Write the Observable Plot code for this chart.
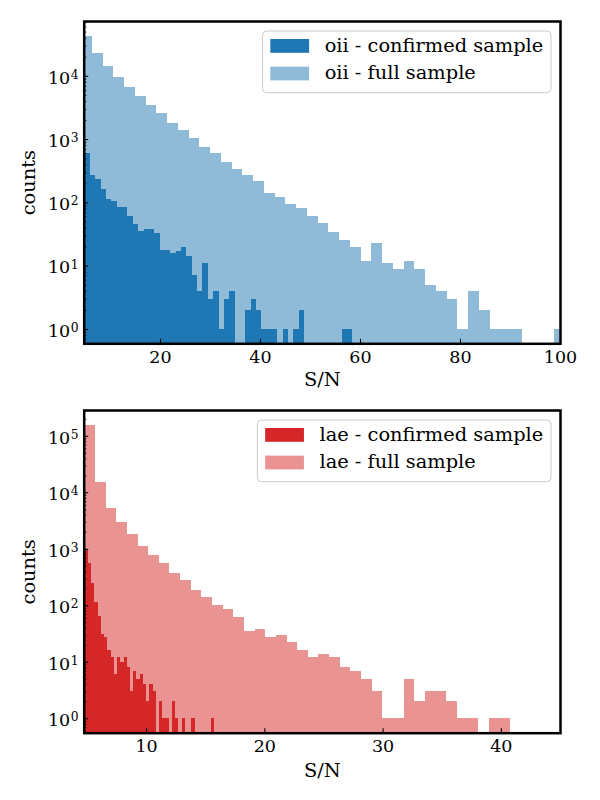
<!DOCTYPE html>
<html><head><meta charset="utf-8">
<script src="https://cdn.jsdelivr.net/npm/d3@7"></script>
<script src="https://cdn.jsdelivr.net/npm/@observablehq/plot@0.6"></script>
<style>
body{margin:0;background:#fff;}
#chart{width:600px;}
#chart svg{display:block;}
</style></head><body><div id="chart"></div>
<script>
// ---- data: histogram counts per bin (bin start, bin width, counts) ----
const oiiFullStart = 4.2, oiiFullWidth = 2.15;
const oiiFullCounts = [42500, 22900, 14300, 9560, 6650, 4790, 3460, 2580, 1790, 1390,
  1040, 750, 603, 434, 337, 271, 218, 141, 122, 94, 82, 61, 47, 34, 25, 20, 12, 23, 11, 9,
  12, 9, 5, 4, 3, 1, 4, 2, 1, 1, 1, 0, 0, 0, 1];
const oiiConfStart = 4.93, oiiConfWidth = 1.071;
const oiiConfCounts = [603, 271, 234, 163, 113, 105, 84, 84, 61, 46, 35, 38, 38, 33, 18, 18,
  16, 17, 20, 14, 7, 4, 11, 3, 4, 1, 3, 4, 0, 0, 2, 3, 2, 1, 1, 1, 0, 1, 0, 1, 2,
  0, 0, 0, 0, 0, 0, 0, 1, 1];
const laeFullStart = 4.78, laeFullWidth = 0.9;
const laeFullCounts = [155000, 15400, 5270, 2980, 1830, 1120, 777, 561, 373, 281, 186, 140,
  101, 86, 62, 35, 38, 27, 30, 22, 16, 12, 14, 12, 8, 7, 5, 3, 1, 1, 5, 2, 3, 3, 2, 1, 1, 0, 1, 1];
const laeConfStart = 4.824, laeConfWidth = 0.273;
const laeConfCounts = [950, 561, 248, 115, 65, 31, 28, 16, 12, 6, 12, 10, 12, 8, 3, 7, 5, 6,
  4, 2, 4, 3, 0, 2, 1, 1, 0, 2, 1, 0, 1, 0, 0, 1, 0, 0, 0, 0, 0, 1];
const oiiXTicks = [20, 40, 60, 80, 100];
const laeXTicks = [10, 20, 30, 40];
const oiiLabels = ["oii - confirmed sample", "oii - full sample"];
const laeLabels = ["lae - confirmed sample", "lae - full sample"];
const blue = "#1f77b4", blueLight = "#8fbbd9";
const red = "#d62728", redLight = "#ea9393";

function bins(start, width, counts) {
  return counts.map((c, i) => ({x1: start + i * width, x2: start + (i + 1) * width, count: c}))
               .filter(d => d.count > 0);
}

const FONT = "'DejaVu Serif', serif";

function panel({full, conf, xDomain, yDomain, xTicks, height, marginTop, marginBottom, color, colorLight, labelDy}) {
  const W = 600, ML = 83.7, MR = 40;
  const plotH = height - marginTop - marginBottom, plotW = W - ML - MR;
  const [y0, y1] = yDomain;
  const majors = [], minors = [];
  for (let e = -1; e <= 6; e++) for (let m = 1; m < 10; m++) {
    const v = m * Math.pow(10, e);
    if (v >= y0 && v <= y1) (m === 1 ? majors : minors).push(v);
  }
  return Plot.plot({
    width: W, height, marginLeft: ML, marginRight: MR, marginTop, marginBottom,
    style: {fontFamily: FONT, fontSize: "17.5px", background: "white", color: "black"},
    x: {domain: xDomain},
    y: {type: "log", domain: yDomain, axis: null},
    marks: [
      Plot.rectY(full, {x1: "x1", x2: "x2", y1: y0, y2: "count", fill: colorLight, inset: 0,
        shapeRendering: "crispEdges", clip: true}),
      Plot.rectY(conf, {x1: "x1", x2: "x2", y1: y0, y2: "count", fill: color, inset: 0,
        shapeRendering: "crispEdges", clip: true}),
      Plot.tickY(majors, {y: d => d, insetRight: plotW - 4.5, strokeWidth: 1.1}),
      Plot.tickY(minors, {y: d => d, insetRight: plotW - 2.6, strokeWidth: 0.9}),
      Plot.tickX(xTicks, {x: d => d, insetTop: plotH - 4.5, strokeWidth: 1.1}),
      Plot.axisX({ticks: xTicks, tickSize: 0, tickPadding: 6.5, label: null, fontSize: 17.5}),
      Plot.text(majors, {y: d => d, frameAnchor: "left", text: () => "10", textAnchor: "end",
        lineAnchor: "bottom", dx: -14, dy: 7.3, fontSize: 17.5}),
      Plot.text(majors, {y: d => d, frameAnchor: "left", text: d => String(Math.round(Math.log10(d))),
        textAnchor: "end", lineAnchor: "bottom", dx: -5.7, dy: 2.5, fontSize: 12.3}),
      Plot.frame({strokeWidth: 2.5}),
      Plot.text(["S/N"], {frameAnchor: "bottom", text: d => d, lineAnchor: "bottom", dy: labelDy, fontSize: 19.4}),
      Plot.text(["counts"], {frameAnchor: "left", text: d => d, rotate: -90, textAnchor: "middle",
        lineAnchor: "bottom", dx: -48.7, fontSize: 19.4})
    ]
  });
}

function addLegend(svg, labels, colors, right, topY) {
  const fs = 19.4, pad = 0.4 * fs, hl = 2 * fs, hp = 0.8 * fs;
  const g = d3.select(svg).append("g").attr("font-family", FONT).attr("font-size", fs)
    .attr("text-anchor", "start");
  const rect = g.append("rect");
  const texts = labels.map((t, i) => g.append("text").text(t).attr("y", topY + 20.7 + i * 27.6)
    .attr("fill", "black").attr("text-anchor", "start"));
  const tw = Math.max(...texts.map(t => t.node().getComputedTextLength()));
  const w = pad + hl + hp + tw + pad;
  const left = right - w;
  rect.attr("x", left).attr("y", topY).attr("width", w).attr("height", 61.7)
      .attr("rx", 4).attr("fill", "white").attr("fill-opacity", 0.8)
      .attr("stroke", "#cccccc").attr("stroke-width", 1);
  texts.forEach(t => t.attr("x", left + pad + hl + hp));
  colors.forEach((c, i) => {
    g.append("rect").attr("x", left + pad).attr("y", topY + 8 + i * 27.6)
      .attr("width", hl).attr("height", 13.8).attr("fill", c);
  });
}

const chartDiv = document.getElementById("chart");

const oiiPanel = panel({
  full: bins(oiiFullStart, oiiFullWidth, oiiFullCounts),
  conf: bins(oiiConfStart, oiiConfWidth, oiiConfCounts),
  xDomain: [4.74, 100], yDomain: [0.594, 73400], xTicks: oiiXTicks,
  height: 395, marginTop: 21, marginBottom: 51.7, color: blue, colorLight: blueLight, labelDy: 42.2
});
chartDiv.appendChild(oiiPanel);
addLegend(oiiPanel, oiiLabels, [blue, blueLight], 551, 31);

const laePanel = panel({
  full: bins(laeFullStart, laeFullWidth, laeFullCounts),
  conf: bins(laeConfStart, laeConfWidth, laeConfCounts),
  xDomain: [4.73, 45], yDomain: [0.556, 286000], xTicks: laeXTicks,
  height: 405, marginTop: 15, marginBottom: 67.3, color: red, colorLight: redLight, labelDy: 43.8
});
chartDiv.appendChild(laePanel);
addLegend(laePanel, laeLabels, [red, redLight], 551, 25);
</script>
</body></html>
